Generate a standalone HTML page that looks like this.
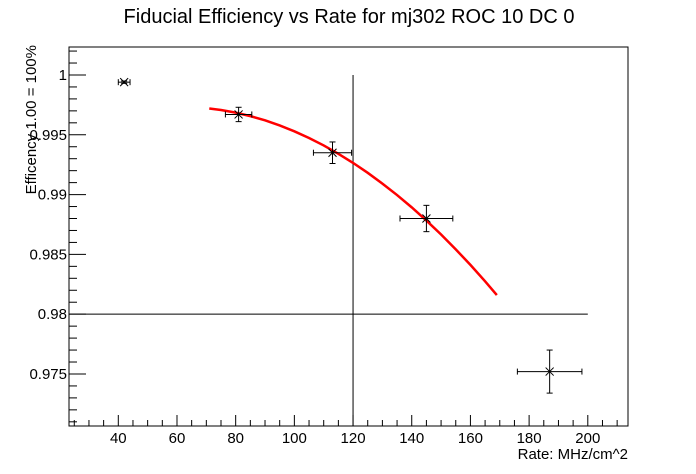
<!DOCTYPE html>
<html><head><meta charset="utf-8"><style>
body{margin:0;background:#fff;}
svg{display:block;font-family:"Liberation Sans",Arial,sans-serif;}
</style></head><body>
<svg id="c" width="696" height="474"></svg>
<script>
const xs=[42,81,113,145,187];
const ys=[0.9994,0.9967,0.9935,0.9880,0.9752];
const xerr=[2,4.5,6.5,9,11];
const yerr=[0.0001,0.0006,0.0009,0.0011,0.0018];
const fitX=[71,75,80,85,90,95,100,105,110,115,120,125,130,135,140,145,150,155,160,165,169];
const fitY=[0.9972,0.99707,0.99685,0.99656,0.99621,0.99578,0.99529,0.99473,0.99411,0.99341,0.99265,0.99182,0.99092,0.98996,0.98893,0.98783,0.98666,0.98542,0.98412,0.98275,0.9816];
const xTicks=[40,60,80,100,120,140,160,180,200];
const yTicks=[0.975,0.98,0.985,0.99,0.995,1];
const yTickLabels=["0.975","0.98","0.985","0.99","0.995","1"];
const L=69,R=628,T=47,B=426,xmin=23.2,xmax=213.7,ymin=0.97065,ymax=1.00234;
const X=v=>L+(v-xmin)/(xmax-xmin)*(R-L);
const Y=v=>B-(v-ymin)/(ymax-ymin)*(B-T);
const s=document.getElementById('c');const NS='http://www.w3.org/2000/svg';
function mk(t,a,p){const e=document.createElementNS(NS,t);for(const k in a)e.setAttribute(k,a[k]);(p||s).appendChild(e);return e;}
let e;
e=mk('rect',{x:L,y:T,width:R-L,height:B-T,fill:'none',stroke:'#000','stroke-width':1});


e=mk('text',{x:349,y:23,'text-anchor':'middle','font-size':20});e.textContent='Fiducial Efficiency vs Rate for mj302 ROC 10 DC 0';


e=mk('text',{x:628,y:459,'text-anchor':'end','font-size':15});e.textContent='Rate: MHz/cm^2';


e=mk('text',{x:0,y:0,'text-anchor':'end','font-size':15,transform:'translate(36,45) rotate(-90)'});e.textContent='Efficency 1.00 = 100%';


for(let v=25;v<=210;v+=5){const big=v%20===0;mk('line',{x1:X(v),x2:X(v),y1:B,y2:B-(big?11:6),stroke:'#000'});}
xTicks.forEach(v=>{e=mk('text',{x:X(v),y:B+17,'text-anchor':'middle','font-size':15});e.textContent=v;

});
for(let i=0;i<=31;i++){const v=0.971+i*0.001;if(v>ymax)break;const big=Math.abs((v*1000)%5)<0.01||Math.abs((v*1000)%5-5)<0.01;mk('line',{x1:L,x2:L+(big?17:8),y1:Y(v),y2:Y(v),stroke:'#000'});}
yTicks.forEach((v,i)=>{e=mk('text',{x:L-2,y:Y(v)+5,'text-anchor':'end','font-size':15});e.textContent=yTickLabels[i];

});
e=mk('line',{x1:X(120),x2:X(120),y1:Y(1),y2:B,stroke:'#000'});


e=mk('line',{x1:L,x2:X(200),y1:Y(0.98),y2:Y(0.98),stroke:'#000'});


e=mk('polyline',{points:fitX.map((x,i)=>X(x)+','+Y(fitY[i])).join(' '),fill:'none',stroke:'#f00','stroke-width':2.5});


xs.forEach((x,i)=>{const g=mk('g',{stroke:'#000','stroke-width':1});


const cx=X(x),cy=Y(ys[i]),x1=X(x-xerr[i]),x2=X(x+xerr[i]),y1=Y(ys[i]+yerr[i]),y2=Y(ys[i]-yerr[i]);
mk('line',{x1:x1,x2:x2,y1:cy,y2:cy},g);mk('line',{x1:cx,x2:cx,y1:y1,y2:y2},g);
mk('line',{x1:x1,x2:x1,y1:cy-3,y2:cy+3},g);mk('line',{x1:x2,x2:x2,y1:cy-3,y2:cy+3},g);
mk('line',{x1:cx-3,x2:cx+3,y1:y1,y2:y1},g);mk('line',{x1:cx-3,x2:cx+3,y1:y2,y2:y2},g);
mk('line',{x1:cx-4,x2:cx+4,y1:cy-4,y2:cy+4},g);mk('line',{x1:cx-4,x2:cx+4,y1:cy+4,y2:cy-4},g);});
</script></body></html>
